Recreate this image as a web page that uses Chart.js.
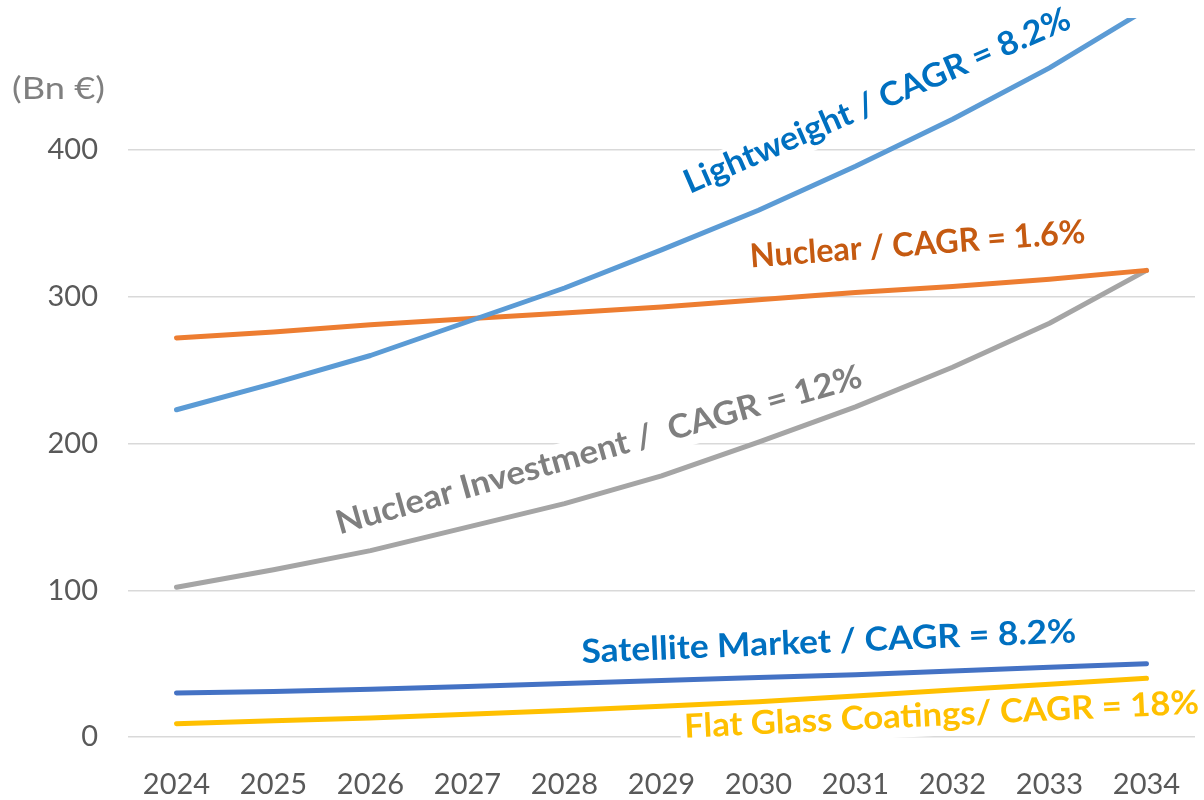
<!DOCTYPE html>
<html>
<head>
<meta charset="utf-8">
<script src="https://cdn.jsdelivr.net/npm/chart.js@4"></script>
<style>
html,body{margin:0;padding:0;background:#fff;}
#wrap{width:1204px;height:800px;}
</style>
</head>
<body>
<div id="wrap"><canvas id="c" width="1204" height="800"></canvas></div>
<script>
// ---- data ----
const years = ['2024','2025','2026','2027','2028','2029','2030','2031','2032','2033','2034'];
const lightweight = [223, 241, 260, 283, 306, 332, 359, 389, 421, 456, 496];
const nuclear = [272, 276, 281, 285, 289, 293, 298, 303, 307, 312, 318];
const nuclearInvestment = [102, 114, 127, 143, 159, 178, 201, 225, 252, 282, 318];
const satelliteMarket = [30, 31, 32.5, 34.5, 36.5, 38.5, 40.5, 42.5, 45, 47.5, 50];
const flatGlassCoatings = [9, 11, 13, 15.5, 18, 21, 24, 28, 32, 36, 40];
const yTicks = [0, 100, 200, 300, 400];
const yMax = 490;
const unitLabel = '(Bn €)';
const labelTexts = [
  'Lightweight / CAGR = 8.2%',
  'Nuclear / CAGR = 1.6%',
  'Nuclear Investment /  CAGR = 12%',
  'Satellite Market / CAGR = 8.2%',
  'Flat Glass Coatings/ CAGR = 18%'
];

// ---- annotation placement (data coordinates of baseline start) ----
const labelPlacement = [
  {x: 5.29, y: 370, angle: -23.5, width: 418, color: '#0070C0'},
  {x: 5.92, y: 320, angle: -4.2, width: 336, color: '#C55A11'},
  {x: 1.68, y: 138, angle: -15.8, width: 545, color: '#7F7F7F'},
  {x: 4.18, y: 50.5, angle: -2.4, width: 495, color: '#0070C0'},
  {x: 5.24, y: -0.5, angle: -2.7, width: 515, color: '#FFC000'}
];

const labelPlugin = {
  id: 'curveLabels',
  beforeDatasetsDraw(chart) {
    const ctx = chart.ctx;
    const xs = chart.scales.x, ys = chart.scales.y;
    labelTexts.forEach((t, i) => {
      const p = labelPlacement[i];
      const px = xs.getPixelForValue(p.x);
      const py = ys.getPixelForValue(p.y);
      ctx.save();
      ctx.font = 'bold 33px Lato';
      ctx.textAlign = 'left';
      ctx.textBaseline = 'alphabetic';
      const m = ctx.measureText(t);
      const sx = p.width / m.width;
      ctx.translate(px, py);
      ctx.rotate(p.angle * Math.PI / 180);
      ctx.fillStyle = '#ffffff';
      ctx.fillRect(-4, -28, p.width + 8, 38);
      ctx.scale(sx, 1);
      ctx.fillStyle = p.color;
      ctx.fillText(t, 0, 0);
      ctx.restore();
    });
  },
  afterDraw(chart) {
    const ctx = chart.ctx;
    ctx.save();
    ctx.font = '31px Lato';
    ctx.fillStyle = '#7F7F7F';
    ctx.textAlign = 'left';
    ctx.textBaseline = 'alphabetic';
    const w = ctx.measureText(unitLabel).width;
    ctx.translate(12, 99);
    ctx.scale(93 / w, 1);
    ctx.fillText(unitLabel, 0, 0);
    ctx.restore();
  }
};

const lineStyle = (color) => ({
  borderColor: color,
  backgroundColor: color,
  borderWidth: 5,
  pointRadius: 0,
  pointHoverRadius: 0,
  tension: 0,
  borderCapStyle: 'round',
  borderJoinStyle: 'round',
  fill: false,
  clip: {left: 10, right: 10, top: 0, bottom: 10}
});

new Chart(document.getElementById('c'), {
  type: 'line',
  data: {
    labels: years,
    datasets: [
      Object.assign({label: 'Lightweight', data: lightweight}, lineStyle('#5B9BD5')),
      Object.assign({label: 'Nuclear', data: nuclear}, lineStyle('#ED7D31')),
      Object.assign({label: 'Nuclear Investment', data: nuclearInvestment}, lineStyle('#A5A5A5')),
      Object.assign({label: 'Satellite Market', data: satelliteMarket}, lineStyle('#4472C4')),
      Object.assign({label: 'Flat Glass Coatings', data: flatGlassCoatings}, lineStyle('#FFC000'))
    ]
  },
  options: {
    responsive: false,
    devicePixelRatio: 1,
    animation: false,
    layout: {padding: {top: 18, right: 9, left: 0, bottom: 0}},
    plugins: {legend: {display: false}, tooltip: {enabled: false}},
    scales: {
      x: {
        offset: true,
        grid: {display: false},
        border: {display: false},
        ticks: {color: '#595959', font: {family: 'Lato', size: 29}, padding: 22, maxRotation: 0, autoSkip: false},
        afterFit(s) { s.height = 63; s.paddingLeft = 0; s.paddingRight = 0; }
      },
      y: {
        min: 0,
        max: yMax,
        grid: {color: '#D9D9D9', lineWidth: 1.5, drawTicks: false},
        border: {display: false},
        ticks: {color: '#595959', font: {family: 'Lato', size: 29}, padding: 30},
        afterBuildTicks(s) { s.ticks = yTicks.map(v => ({value: v})); },
        afterFit(s) { s.width = 128; s.paddingTop = 0; s.paddingBottom = 0; }
      }
    }
  },
  plugins: [labelPlugin]
});
</script>
</body>
</html>
